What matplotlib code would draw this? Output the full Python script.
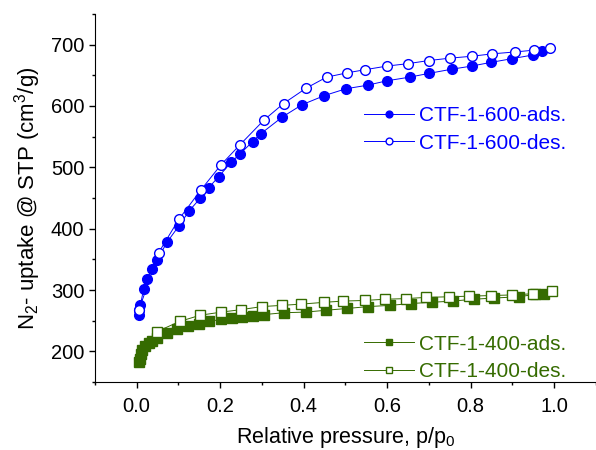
import numpy as np
import matplotlib.pyplot as plt
from matplotlib.ticker import MultipleLocator

plt.rcParams['font.family'] = ['Liberation Sans', 'DejaVu Sans']
plt.rcParams['mathtext.fontset'] = 'custom'
plt.rcParams['mathtext.rm'] = 'Liberation Sans'

# CTF-1-600 adsorption
p600_ads = [0.006, 0.006, 0.009, 0.017, 0.026, 0.037, 0.049, 0.074, 0.101, 0.126, 0.153, 0.173,
            0.197, 0.226, 0.248, 0.278, 0.298, 0.349, 0.396, 0.450, 0.501, 0.554, 0.599, 0.654,
            0.699, 0.755, 0.802, 0.848, 0.898, 0.948, 0.970]
v600_ads = [260, 267, 275, 301, 318, 334, 349, 379, 404, 429, 450, 467,
            485, 508, 522, 542, 555, 582, 602, 617, 628, 634, 641, 647,
            653, 660, 665, 671, 677, 683, 689]

# CTF-1-600 desorption
p600_des = [0.006, 0.053, 0.101, 0.154, 0.202, 0.248, 0.305, 0.352, 0.406, 0.455, 0.504, 0.546,
            0.599, 0.650, 0.699, 0.751, 0.802, 0.852, 0.905, 0.952, 0.990]
v600_des = [268, 361, 415, 463, 504, 537, 577, 604, 629, 647, 654, 659,
            665, 669, 674, 678, 681, 685, 688, 691, 694]

# CTF-1-400 adsorption
p400_ads = [0.006, 0.008, 0.010, 0.014, 0.020, 0.029, 0.036, 0.048, 0.072, 0.098, 0.124, 0.149,
            0.173, 0.203, 0.229, 0.253, 0.278, 0.305, 0.353, 0.405, 0.453, 0.505, 0.555, 0.607,
            0.657, 0.707, 0.757, 0.807, 0.857, 0.915, 0.955, 0.975]
v400_ads = [182, 188, 195, 202, 208, 214, 217, 221, 230, 237, 241, 245,
            249, 252, 254, 256, 258, 260, 263, 264, 267, 270, 273, 275,
            278, 280, 282, 285, 287, 289, 293, 294]

# CTF-1-400 desorption
p400_des = [0.048, 0.104, 0.153, 0.203, 0.250, 0.300, 0.348, 0.394, 0.450, 0.495, 0.546, 0.595,
            0.645, 0.693, 0.748, 0.796, 0.848, 0.900, 0.950, 0.994]
v400_des = [232, 249, 259, 264, 268, 273, 275, 277, 280, 282, 283, 285,
            286, 288, 289, 290, 291, 292, 294, 298]

blue = '#0000FF'
green = '#356B00'

fig = plt.figure(figsize=(5.96, 4.5), dpi=100)
ax = fig.add_axes([0.159, 0.151, 0.841, 0.818])

l1, = ax.plot(p600_ads, v600_ads, '-o', color=blue, lw=0.7, ms=7, mfc=blue, mec=blue)
l2, = ax.plot(p600_des, v600_des, '-o', color=blue, lw=0.7, ms=7, mfc='white', mec=blue, mew=1)
l3, = ax.plot(p400_ads, v400_ads, '-s', color=green, lw=0.7, ms=6.5, mfc=green, mec=green)
l4, = ax.plot(p400_des, v400_des, '-s', color=green, lw=0.7, ms=6.5, mfc='white', mec=green, mew=1)

ax.set_xlim(-0.1, 1.1)
ax.set_ylim(150, 750)
ax.xaxis.set_major_locator(MultipleLocator(0.2))
ax.xaxis.set_minor_locator(MultipleLocator(0.1))
ax.yaxis.set_minor_locator(MultipleLocator(50))
ax.set_yticks([200, 300, 400, 500, 600, 700])
ax.xaxis.set_major_formatter(plt.FormatStrFormatter('%.1f'))
ax.tick_params(which='major', direction='out', length=4, width=1, labelsize=14.5)
ax.tick_params(axis='x', which='major', pad=7)
ax.tick_params(which='minor', direction='out', length=2.5, width=1)
for s in ['top', 'right']:
    ax.spines[s].set_visible(False)

ax.set_xlabel('Relative pressure, p/p$_0$', fontsize=15.5, labelpad=6)
ax.set_ylabel('N$_2$- uptake @ STP (cm$^3$/g)', fontsize=16, labelpad=6)

leg1 = ax.legend([l1, l2], ['CTF-1-600-ads.', 'CTF-1-600-des.'], loc='upper left',
                 bbox_to_anchor=(0.5, 0.80), frameon=False, fontsize=15, markerscale=0.7,
                 handlelength=2.4, handletextpad=0.25, labelspacing=0.4, labelcolor=blue)
ax.add_artist(leg1)
ax.legend([l3, l4], ['CTF-1-400-ads.', 'CTF-1-400-des.'], loc='upper left',
          bbox_to_anchor=(0.5, 0.18), frameon=False, fontsize=15, markerscale=0.7,
          handlelength=2.4, handletextpad=0.25, labelspacing=0.4, labelcolor=green)

fig.savefig('out.png', dpi=100)
